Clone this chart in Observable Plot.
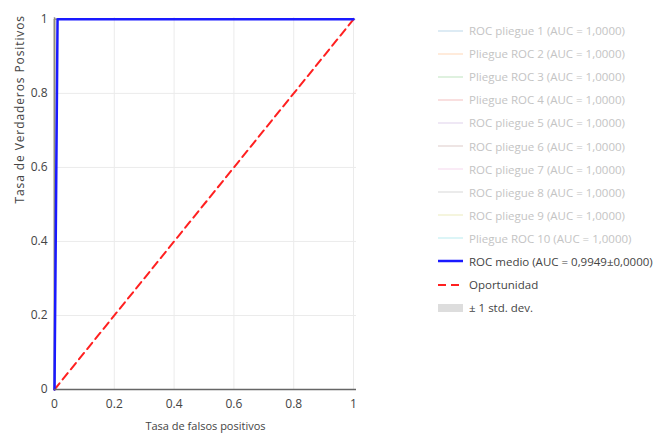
<!DOCTYPE html>
<html><head><meta charset="utf-8">
<script src="https://cdn.jsdelivr.net/npm/d3@7"></script>
<script src="https://cdn.jsdelivr.net/npm/@observablehq/plot@0.6"></script>
<style>
body{margin:0;background:#fff;font-family:"Open Sans",sans-serif;}
#wrap{position:relative;width:668px;height:433px;overflow:hidden;}
#legend{position:absolute;left:438px;top:19px;font-size:11.5px;}
.row{height:23.1px;display:flex;align-items:center;white-space:nowrap;}
.row svg{margin-right:5px;flex:none;}
</style>
</head><body>
<div id="wrap"><div id="legend"></div></div>
<script>
const foldNames = ["ROC pliegue 1 (AUC = 1,0000)","Pliegue ROC 2 (AUC = 1,0000)","Pliegue ROC 3 (AUC = 1,0000)","Pliegue ROC 4 (AUC = 1,0000)","ROC pliegue 5 (AUC = 1,0000)","ROC pliegue 6 (AUC = 1,0000)","ROC pliegue 7 (AUC = 1,0000)","ROC pliegue 8 (AUC = 1,0000)","ROC pliegue 9 (AUC = 1,0000)","Pliegue ROC 10 (AUC = 1,0000)"];
const foldColors = ["#1f77b4","#ff7f0e","#2ca02c","#d62728","#9467bd","#8c564b","#e377c2","#7f7f7f","#bcbd22","#17becf"];
const foldFpr = [0, 0, 1];
const foldTpr = [0, 1, 1];
const meanFpr = [0, 0.0102, 1];
const meanTpr = [0, 1, 1];
const chanceX = [0, 1];
const chanceY = [0, 1];
const meanLabel = "ROC medio (AUC = 0,9949±0,0000)";
const chanceLabel = "Oportunidad";
const stdLabel = "± 1 std. dev.";
const xTitle = "Tasa de falsos positivos";
const yTitle = "Tasa de Verdaderos Positivos";
const ticks = [0, 0.2, 0.4, 0.6, 0.8, 1];

const foldData = foldNames.flatMap((n, i) => foldFpr.map((f, j) => ({fold: n, color: foldColors[i], x: f, y: foldTpr[j]})));
const meanData = meanFpr.map((f, i) => ({x: f, y: meanTpr[i], lo: meanTpr[i], hi: meanTpr[i]}));
const chanceData = chanceX.map((x, i) => ({x, y: chanceY[i]}));
const fmt = d => String(d);

const chart = Plot.plot({
  width: 668, height: 433,
  marginLeft: 54, marginRight: 312, marginTop: 17, marginBottom: 44,
  style: {fontFamily: "Open Sans", fontSize: "12px", color: "#444", background: "#fff"},
  x: {domain: [0, 1.01], ticks, tickFormat: fmt},
  y: {domain: [0, 1.005], ticks, tickFormat: fmt},
  marks: [
    Plot.gridX(ticks, {stroke: "#ebebeb", strokeOpacity: 1}),
    Plot.gridY(ticks, {stroke: "#ebebeb", strokeOpacity: 1}),
    Plot.axisX({ticks, tickSize: 0, tickPadding: 10, tickFormat: fmt, label: null, fill: "#444"}),
    Plot.axisY({ticks, tickSize: 0, tickPadding: 7, tickFormat: fmt, label: null, fill: "#444"}),
    Plot.ruleX([0], {stroke: "#aaa", strokeWidth: 1.5}),
    Plot.areaY(meanData, {x: "x", y1: "lo", y2: "hi", fill: "#ccc", fillOpacity: 0.6}),
    Plot.line(foldData, {x: "x", y: "y", z: "fold", stroke: "color", strokeWidth: 1.5, strokeOpacity: 0.15}),
    Plot.line(chanceData, {x: "x", y: "y", stroke: "#ff2020", strokeWidth: 2, strokeDasharray: "8,5"}),
    Plot.line(meanData, {x: "x", y: "y", stroke: "#1a1aff", strokeWidth: 2.5}),
    Plot.ruleY([0], {stroke: "#666", strokeWidth: 1.5}),
    Plot.text([xTitle], {frameAnchor: "bottom", dy: 40, text: d => d, fill: "#444", fontSize: 11}),
    Plot.text([yTitle], {frameAnchor: "left", dx: -34, rotate: -90, text: d => d, fill: "#444", fontSize: 12})
  ]
});
document.getElementById("wrap").prepend(chart);
chart.querySelectorAll("text").forEach(t => { if (t.textContent === yTitle) t.style.letterSpacing = "0.9px"; });

const legend = document.getElementById("legend");
function addRow(label, swatch, textColor) {
  const r = document.createElement("div");
  r.className = "row";
  r.innerHTML = `<svg width="26" height="12">${swatch}</svg><span style="color:${textColor}">${label}</span>`;
  legend.appendChild(r);
}
foldNames.forEach((n, i) => addRow(n, `<line x1="0" x2="25" y1="6" y2="6" stroke="${foldColors[i]}" stroke-opacity="0.2" stroke-width="1.5"/>`, "#c4c4c4"));
addRow(meanLabel, `<line x1="0" x2="25" y1="6" y2="6" stroke="#1a1aff" stroke-width="2.5"/>`, "#444");
addRow(chanceLabel, `<line x1="0" x2="25" y1="6" y2="6" stroke="#ff2020" stroke-width="2" stroke-dasharray="8,5"/>`, "#444");
addRow(stdLabel, `<rect x="0" y="2" width="25" height="8" fill="#ddd"/>`, "#444");
</script>
</body></html>
